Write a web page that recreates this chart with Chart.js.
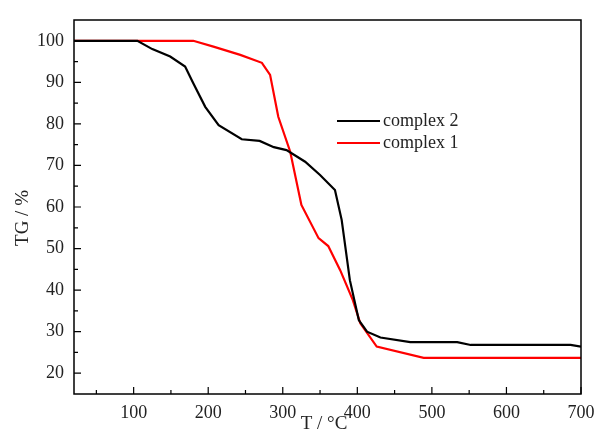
<!DOCTYPE html>
<html lang="en">
<head>
    <meta charset="UTF-8">
    <title>TG curves</title>
    <script src="https://cdn.jsdelivr.net/npm/chart.js"></script>
    <style>
        html, body { margin: 0; padding: 0; background: #fff; }
        #wrap { width: 597px; height: 432px; }
    </style>
</head>
<body>
<div id="wrap"><canvas id="tg"></canvas></div>
<script>
    // complex 2 (black)
    const c2T  = [20, 105, 125, 149, 169, 180, 196, 214, 245, 269, 288, 305, 330, 350, 370, 379, 390, 402, 413, 431, 471, 534, 552, 686, 700];
    const c2TG = [100, 100, 98, 96.2, 93.8, 89.8, 84.1, 79.7, 76.3, 75.9, 74.4, 73.7, 70.9, 67.7, 64.1, 56.9, 42.4, 32.8, 30.0, 28.6, 27.5, 27.5, 26.8, 26.8, 26.4];
    // complex 1 (red)
    const c1T  = [20, 180, 207, 243, 272, 283, 294, 310, 325, 348, 361, 377, 394, 404, 426, 489, 700];
    const c1TG = [100, 100, 98.6, 96.6, 94.7, 91.8, 81.7, 73.3, 60.5, 52.5, 50.6, 44.8, 37.6, 32.0, 26.4, 23.7, 23.7];

    const xTicks = [100, 200, 300, 400, 500, 600, 700];
    const xMinor = [50, 150, 250, 350, 450, 550, 650];
    const yTicks = [20, 30, 40, 50, 60, 70, 80, 90, 100];
    const yMinor = [25, 35, 45, 55, 65, 75, 85, 95];

    const serif = '"Liberation Serif", "DejaVu Serif", serif';

    function pts(xs, ys) {
        return xs.map((x, i) => ({ x: x, y: ys[i] }));
    }

    // frame, inward ticks, legend and axis titles
    const decor = {
        id: 'decor',
        afterDraw(chart) {
            const c = chart.ctx;
            const a = chart.chartArea;
            const xs = chart.scales.x, ys = chart.scales.y;
            c.save();
            c.strokeStyle = '#000';
            c.lineWidth = 1.5;
            c.strokeRect(a.left, a.top, a.right - a.left, a.bottom - a.top);
            c.lineWidth = 1.2;
            c.beginPath();
            xTicks.forEach(v => { const p = xs.getPixelForValue(v); c.moveTo(p, a.bottom); c.lineTo(p, a.bottom - 7); });
            xMinor.forEach(v => { const p = xs.getPixelForValue(v); c.moveTo(p, a.bottom); c.lineTo(p, a.bottom - 4); });
            yTicks.forEach(v => { const p = ys.getPixelForValue(v); c.moveTo(a.left, p); c.lineTo(a.left + 7, p); });
            yMinor.forEach(v => { const p = ys.getPixelForValue(v); c.moveTo(a.left, p); c.lineTo(a.left + 4, p); });
            c.stroke();

            // legend
            c.font = '18px ' + serif;
            c.textBaseline = 'middle';
            c.fillStyle = '#222';
            chart.data.datasets.forEach((ds, i) => {
                const y = 121 + i * 22;
                c.strokeStyle = ds.borderColor;
                c.lineWidth = 2;
                c.beginPath();
                c.moveTo(337, y);
                c.lineTo(380, y);
                c.stroke();
                c.fillText(ds.label, 383, y);
            });

            // axis titles
            c.font = '19px ' + serif;
            c.textAlign = 'center';
            c.fillText('T / \u00B0C', 324, 424);
            c.translate(23, 218);
            c.rotate(-Math.PI / 2);
            c.fillText('TG / %', 0, 0);
            c.restore();
        }
    };

    new Chart(document.getElementById('tg'), {
        type: 'line',
        data: {
            datasets: [
                { label: 'complex 2', data: pts(c2T, c2TG), borderColor: '#000000', borderWidth: 2.2, pointRadius: 0, tension: 0, fill: false },
                { label: 'complex 1', data: pts(c1T, c1TG), borderColor: '#ff0000', borderWidth: 2.2, pointRadius: 0, tension: 0, fill: false }
            ]
        },
        options: {
            responsive: true,
            maintainAspectRatio: false,
            animation: false,
            layout: { padding: { left: 0, top: 20, right: 16, bottom: 0 } },
            plugins: { legend: { display: false }, tooltip: { enabled: false } },
            scales: {
                x: {
                    type: 'linear',
                    min: 20,
                    max: 700,
                    grid: { display: false, drawTicks: false },
                    border: { display: false },
                    afterBuildTicks: s => { s.ticks = xTicks.map(v => ({ value: v })); },
                    afterFit: s => { s.height = 38; s.paddingLeft = 0; s.paddingRight = 0; },
                    ticks: { padding: 8, color: '#222', font: { family: serif, size: 18 } }
                },
                y: {
                    min: 15,
                    max: 105,
                    grid: { display: false, drawTicks: false },
                    border: { display: false },
                    afterBuildTicks: s => { s.ticks = yTicks.map(v => ({ value: v })); },
                    afterFit: s => { s.width = 74; s.paddingTop = 0; s.paddingBottom = 0; },
                    ticks: { padding: 10, color: '#222', font: { family: serif, size: 18 } }
                }
            }
        },
        plugins: [decor]
    });
</script>
</body>
</html>
